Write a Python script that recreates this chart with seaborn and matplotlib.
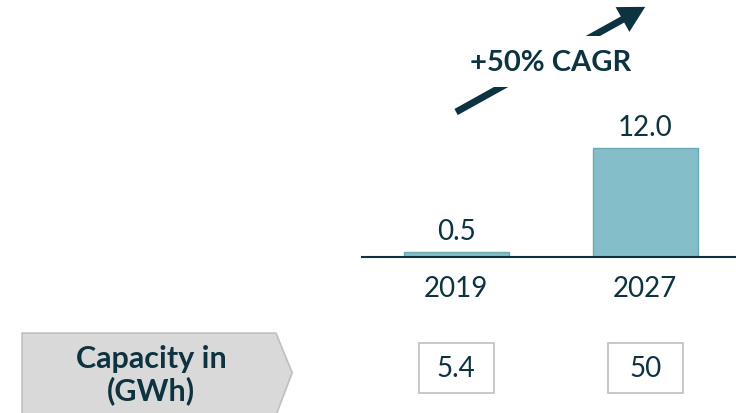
#!/usr/bin/env python3
import pandas as pd
import seaborn as sns
import matplotlib.pyplot as plt
from matplotlib import transforms
from matplotlib.patches import Polygon, Rectangle

# chart values
years = ['2019', '2027']
values = [0.5, 12.0]
capacity = ['5.4', '50']
row_label = 'Capacity in\n(GWh)'
cagr_label = '+50% CAGR'

dark = '#0d3340'
bar_color = '#84bec8'

sns.set_style('white')
plt.rcParams['font.family'] = ['Lato', 'DejaVu Sans']

df = pd.DataFrame({'year': years, 'value': values})

fig = plt.figure(figsize=(7.36, 4.14), dpi=100)
ax = fig.add_axes([0.492, 0.377, 0.508, 0.623])

sns.barplot(data=df, x='year', y='value', color=bar_color, width=0.556,
            edgecolor='#6aaab5', linewidth=1, saturation=1, ax=ax)
ax.bar_label(ax.containers[0], fmt='%.1f', padding=6, fontsize=20, color=dark)

ax.set_xlim(-0.497, 1.48)
ax.set_ylim(0, 28.4)
ax.set_xlabel('')
ax.set_ylabel('')
ax.set_yticks([])
sns.despine(ax=ax, left=True, top=True, right=True)
ax.spines['bottom'].set_color(dark)
ax.spines['bottom'].set_linewidth(1.5)
ax.tick_params(axis='x', length=0, pad=13, labelsize=20, labelcolor=dark)

# CAGR arrow between the two bars
bt = transforms.blended_transform_factory(ax.transData, fig.transFigure)
ax.annotate('', xy=(1, 0.981), xycoords=bt, xytext=(0, 0.727), textcoords=bt,
            arrowprops=dict(arrowstyle='-|>,head_length=0.55,head_width=0.3',
                            lw=5, color=dark, mutation_scale=20,
                            joinstyle='miter', capstyle='butt',
                            shrinkA=0, shrinkB=0),
            annotation_clip=False)
ax.text(0.5, 0.848, cagr_label, transform=bt, ha='center', va='center',
        fontsize=21, fontweight='bold', color=dark, zorder=5,
        bbox=dict(facecolor='white', edgecolor='none', pad=9), clip_on=False)

# bottom row: label chevron and value boxes
fig.patches.append(Polygon([[0.030, 0.193], [0.375, 0.193], [0.397, 0.097],
                            [0.375, -0.005], [0.030, -0.005]], closed=True,
                           transform=fig.transFigure, facecolor='#d9d9d9',
                           edgecolor='#bfbfbf', linewidth=1.2))
fig.text(0.205, 0.094, row_label, ha='center', va='center', fontsize=22,
         fontweight='bold', color=dark, linespacing=1.15)

for i, cap in enumerate(capacity):
    ax.add_patch(Rectangle((i - 0.198, 0.048), 0.396, 0.121, transform=bt,
                           facecolor='white', edgecolor='#bfbfbf',
                           linewidth=1.2, clip_on=False))
    ax.text(i, 0.109, cap, transform=bt, ha='center', va='center',
            fontsize=20, color=dark, clip_on=False)

fig.savefig('out.png', dpi=100)
